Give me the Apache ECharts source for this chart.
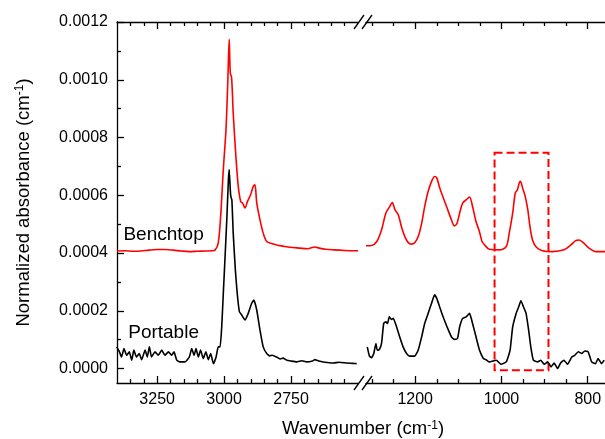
<!DOCTYPE html>
<html><head><meta charset="utf-8">
<script src="https://cdn.jsdelivr.net/npm/echarts@6/dist/echarts.min.js"></script>
<style>html,body{margin:0;padding:0;background:#fff}#c{width:605px;height:439px}</style>
</head><body><div id="c"></div>
<script>
const FONT = '"Liberation Sans", Arial, sans-serif';
// axis ranges (wavenumber, cm-1) and absorbance
const leftRange = [2500, 3400];
const rightRange = [760, 1314];
const yRange = [-0.5e-4, 12e-4];
// tick values
const leftMajor = [3250, 3000, 2750];
const leftMinor = [3350,3300,3200,3150,3100,3050,2950,2900,2850,2800,2700,2650,2600,2550];
const rightMajor = [1200, 1000, 800];
const rightMinor = [1300,1250,1150,1100,1050,950,900,850];
const yMajor = [0, 2e-4, 4e-4, 6e-4, 8e-4, 10e-4, 12e-4];
const yMinor = [1e-4, 3e-4, 5e-4, 7e-4, 9e-4, 11e-4];

// Benchtop spectrum, high-wavenumber segment
const benchtopHigh = [[3400,4.07e-4],[3370,4.08e-4],[3340,4.06e-4],[3310,4.07e-4],[3280,4.10e-4],[3250,4.12e-4],[3220,4.12e-4],[3190,4.10e-4],[3160,4.07e-4],[3130,4.05e-4],[3100,4.06e-4],[3070,4.07e-4],[3045,4.08e-4],[3034,4.10e-4],[3022,4.34e-4],[3013,5.26e-4],[3003,6.89e-4],[2993,8.28e-4],[2986,10.0e-4],[2981,11.40e-4],[2977,10.24e-4],[2972,10.07e-4],[2966,8.85e-4],[2956,7.35e-4],[2947,6.30e-4],[2938,5.78e-4],[2931,5.73e-4],[2922,5.56e-4],[2913,5.78e-4],[2901,6.02e-4],[2891,6.31e-4],[2885,6.36e-4],[2878,5.73e-4],[2866,5.15e-4],[2854,4.69e-4],[2841,4.40e-4],[2820,4.32e-4],[2804,4.28e-4],[2780,4.24e-4],[2754,4.20e-4],[2717,4.17e-4],[2690,4.15e-4],[2675,4.18e-4],[2661,4.21e-4],[2645,4.17e-4],[2620,4.13e-4],[2592,4.11e-4],[2550,4.09e-4],[2500,4.08e-4]];
// Portable spectrum, high-wavenumber segment
const portableHigh = [[3401,0.75e-4],[3391,0.58e-4],[3383,0.40e-4],[3374,0.69e-4],[3364,0.46e-4],[3354,0.58e-4],[3345,0.29e-4],[3337,0.64e-4],[3327,0.40e-4],[3317,0.52e-4],[3308,0.31e-4],[3295,0.64e-4],[3287,0.40e-4],[3279,0.75e-4],[3271,0.40e-4],[3258,0.58e-4],[3246,0.46e-4],[3233,0.64e-4],[3221,0.46e-4],[3208,0.58e-4],[3196,0.46e-4],[3187,0.58e-4],[3177,0.29e-4],[3165,0.23e-4],[3146,0.23e-4],[3130,0.40e-4],[3121,0.69e-4],[3112,0.46e-4],[3105,0.69e-4],[3096,0.40e-4],[3088,0.64e-4],[3078,0.35e-4],[3068,0.58e-4],[3059,0.31e-4],[3050,0.52e-4],[3040,0.17e-4],[3030,0.40e-4],[3022,0.75e-4],[3015,0.75e-4],[3009,1.44e-4],[3003,2.60e-4],[2997,3.76e-4],[2990,5.15e-4],[2984,6.54e-4],[2981,6.89e-4],[2977,6.20e-4],[2975,5.96e-4],[2971,5.84e-4],[2966,4.69e-4],[2958,3.41e-4],[2951,2.60e-4],[2943,1.97e-4],[2934,1.85e-4],[2922,1.68e-4],[2910,1.91e-4],[2897,2.26e-4],[2889,2.37e-4],[2878,2.02e-4],[2866,1.33e-4],[2854,0.75e-4],[2841,0.52e-4],[2830,0.44e-4],[2820,0.46e-4],[2804,0.40e-4],[2790,0.33e-4],[2780,0.36e-4],[2766,0.29e-4],[2750,0.26e-4],[2729,0.23e-4],[2710,0.27e-4],[2692,0.23e-4],[2670,0.26e-4],[2661,0.31e-4],[2650,0.27e-4],[2630,0.23e-4],[2615,0.21e-4],[2592,0.19e-4],[2570,0.22e-4],[2542,0.19e-4],[2520,0.18e-4],[2505,0.17e-4]];
// Benchtop spectrum, fingerprint segment
const benchtopLow = [[1314,4.25e-4],[1301,4.26e-4],[1289,4.40e-4],[1278,4.80e-4],[1268,5.38e-4],[1259,5.61e-4],[1253,5.75e-4],[1247,5.50e-4],[1239,5.32e-4],[1232,4.92e-4],[1224,4.57e-4],[1216,4.36e-4],[1209,4.31e-4],[1201,4.36e-4],[1193,4.57e-4],[1185,5.03e-4],[1178,5.61e-4],[1170,6.13e-4],[1162,6.48e-4],[1155,6.65e-4],[1150,6.60e-4],[1143,6.25e-4],[1136,5.96e-4],[1126,5.56e-4],[1116,5.15e-4],[1109,4.94e-4],[1103,5.03e-4],[1097,5.38e-4],[1090,5.73e-4],[1082,5.84e-4],[1074,5.94e-4],[1067,5.61e-4],[1059,5.09e-4],[1051,4.74e-4],[1045,4.40e-4],[1039,4.28e-4],[1028,4.13e-4],[1005,4.11e-4],[989,4.22e-4],[982,4.69e-4],[974,5.38e-4],[968,6.08e-4],[963,6.19e-4],[959,6.42e-4],[956,6.48e-4],[951,6.25e-4],[945,5.96e-4],[939,5.50e-4],[934,4.92e-4],[928,4.45e-4],[919,4.20e-4],[905,4.08e-4],[882,4.05e-4],[855,4.11e-4],[839,4.28e-4],[828,4.43e-4],[820,4.45e-4],[809,4.34e-4],[797,4.17e-4],[782,4.05e-4],[760,4.05e-4]];
// Portable spectrum, fingerprint segment
const portableLow = [[1311,0.75e-4],[1306,0.43e-4],[1301,0.38e-4],[1296,0.52e-4],[1291,0.87e-4],[1288,0.64e-4],[1283,0.66e-4],[1278,0.87e-4],[1273,1.56e-4],[1268,1.62e-4],[1264,1.56e-4],[1260,1.79e-4],[1255,1.70e-4],[1251,1.74e-4],[1243,1.44e-4],[1236,1.10e-4],[1228,0.75e-4],[1220,0.52e-4],[1213,0.43e-4],[1201,0.43e-4],[1193,0.64e-4],[1185,1.10e-4],[1178,1.56e-4],[1170,1.91e-4],[1162,2.26e-4],[1155,2.55e-4],[1150,2.43e-4],[1142,2.08e-4],[1134,1.74e-4],[1126,1.44e-4],[1116,1.10e-4],[1109,1.01e-4],[1102,1.04e-4],[1097,1.44e-4],[1090,1.74e-4],[1082,1.79e-4],[1074,1.91e-4],[1067,1.56e-4],[1059,1.10e-4],[1051,0.64e-4],[1042,0.35e-4],[1035,0.30e-4],[1028,0.23e-4],[1012,0.29e-4],[1001,0.15e-4],[989,0.23e-4],[980,0.64e-4],[974,1.44e-4],[966,1.91e-4],[960,2.14e-4],[955,2.35e-4],[949,2.14e-4],[943,1.91e-4],[937,1.33e-4],[932,0.75e-4],[926,0.29e-4],[916,0.23e-4],[909,0.29e-4],[901,0.15e-4],[893,0.23e-4],[885,0.06e-4],[878,0.19e-4],[870,0.00e-4],[863,0.19e-4],[855,0.29e-4],[847,0.15e-4],[837,0.40e-4],[830,0.46e-4],[822,0.58e-4],[814,0.52e-4],[807,0.61e-4],[799,0.58e-4],[791,0.23e-4],[782,0.17e-4],[776,0.35e-4],[768,0.17e-4],[762,0.29e-4]];

const seriesNames = ['Benchtop', 'Portable'];
const nameAnchors = [[3226, 4.63e-4], [3226, 1.23e-4]];
const highlightBox = [[1016, 7.47e-4], [891, -0.06e-4]];

const RED = '#ff0000', BLACK = '#000000';
const AX = {color:'#000', width:1.3};

function xAx(grid, range, ticks, len, pos, showLine, showLabel) {
  return {type:'value', gridIndex:grid, min:range[0], max:range[1], inverse:true, position:pos,
    axisLine:{show:showLine, onZero:false, lineStyle:AX},
    axisTick:{show:true, inside:true, length:len, customValues:ticks, lineStyle:AX},
    axisLabel:{show:showLabel, customValues:ticks, margin:9, fontSize:16, color:'#000', fontFamily:FONT,
      formatter:v => String(Math.round(v))},
    splitLine:{show:false}};
}

const chart = echarts.init(document.getElementById('c'), null, {renderer:'canvas'});
chart.setOption({
  animation:false,
  textStyle:{fontFamily:FONT},
  grid:[{left:117, top:22, width:241, height:361}, {left:366, top:22, width:240, height:361}],
  xAxis:[
    xAx(0, leftRange, leftMajor, 7, 'bottom', true, true),
    xAx(0, leftRange, leftMinor, 4, 'bottom', false, false),
    xAx(0, leftRange, leftMajor, 7, 'top', true, false),
    xAx(0, leftRange, leftMinor, 4, 'top', false, false),
    xAx(1, rightRange, rightMajor, 7, 'bottom', true, true),
    xAx(1, rightRange, rightMinor, 4, 'bottom', false, false),
    xAx(1, rightRange, rightMajor, 7, 'top', true, false),
    xAx(1, rightRange, rightMinor, 4, 'top', false, false)
  ],
  yAxis:[
    {type:'value', gridIndex:0, position:'left', min:yRange[0], max:yRange[1],
     axisLine:{show:true, onZero:false, lineStyle:AX},
     axisTick:{show:true, inside:true, length:7, customValues:yMajor, lineStyle:AX},
     axisLabel:{show:true, customValues:yMajor, margin:9, fontSize:16, color:'#000', fontFamily:FONT,
       formatter:v => Math.abs(v) < 1e-9 ? '0.0000' : v.toFixed(4)},
     splitLine:{show:false},
     name:'Normalized absorbance (cm{sup|-1})', nameLocation:'middle', nameGap:84, nameRotate:90,
     nameTextStyle:{fontSize:18.5, color:'#000', fontFamily:FONT,
       rich:{sup:{fontSize:12, verticalAlign:'top', fontFamily:FONT, color:'#000'}}}},
    {type:'value', gridIndex:0, position:'left', min:yRange[0], max:yRange[1],
     axisLine:{show:false, onZero:false},
     axisTick:{show:true, inside:true, length:4, customValues:yMinor, lineStyle:AX},
     axisLabel:{show:false}, splitLine:{show:false}},
    {type:'value', gridIndex:1, show:false, min:yRange[0], max:yRange[1], splitLine:{show:false}}
  ],
  series:[
    {type:'line', xAxisIndex:0, yAxisIndex:0, data:benchtopHigh, showSymbol:false, symbol:'none', smooth:0.3,
     lineStyle:{color:RED, width:1.6}, z:3,
     markPoint:{symbol:'circle', symbolSize:0, silent:true,
       label:{show:true, position:'inside', formatter:p => p.name, fontSize:19, color:'#000', fontFamily:FONT},
       data:[{name:seriesNames[0], coord:nameAnchors[0]}]}},
    {type:'line', xAxisIndex:0, yAxisIndex:0, data:portableHigh, showSymbol:false, symbol:'none', smooth:0.15,
     lineStyle:{color:BLACK, width:1.6}, z:2,
     markPoint:{symbol:'circle', symbolSize:0, silent:true,
       label:{show:true, position:'inside', formatter:p => p.name, fontSize:19, color:'#000', fontFamily:FONT},
       data:[{name:seriesNames[1], coord:nameAnchors[1]}]}},
    {type:'line', xAxisIndex:4, yAxisIndex:2, data:benchtopLow, showSymbol:false, symbol:'none', smooth:0.3,
     lineStyle:{color:RED, width:1.6}, z:3},
    {type:'line', xAxisIndex:4, yAxisIndex:2, data:portableLow, showSymbol:false, symbol:'none', smooth:0.15,
     lineStyle:{color:BLACK, width:1.6}, z:2,
     markArea:{silent:true,
       itemStyle:{color:'rgba(0,0,0,0)', borderColor:RED, borderWidth:2, borderType:[8,4]},
       data:[[{coord:highlightBox[0]}, {coord:highlightBox[1]}]]}}
  ],
  graphic:[
    {type:'line', shape:{x1:354,y1:390,x2:364,y2:376}, style:{stroke:'#000', lineWidth:1.3}, z:10},
    {type:'line', shape:{x1:362,y1:390,x2:372,y2:376}, style:{stroke:'#000', lineWidth:1.3}, z:10},
    {type:'line', shape:{x1:354,y1:29,x2:364,y2:15}, style:{stroke:'#000', lineWidth:1.3}, z:10},
    {type:'line', shape:{x1:362,y1:29,x2:372,y2:15}, style:{stroke:'#000', lineWidth:1.3}, z:10},
    {type:'text', x:363, y:429, z:10, style:{text:'Wavenumber (cm{sup|-1})', align:'center', verticalAlign:'middle',
      fontSize:18.5, fontFamily:FONT, fill:'#000',
      rich:{sup:{fontSize:12, verticalAlign:'top', fontFamily:FONT, fill:'#000'}}}}
  ]
});
</script></body></html>
